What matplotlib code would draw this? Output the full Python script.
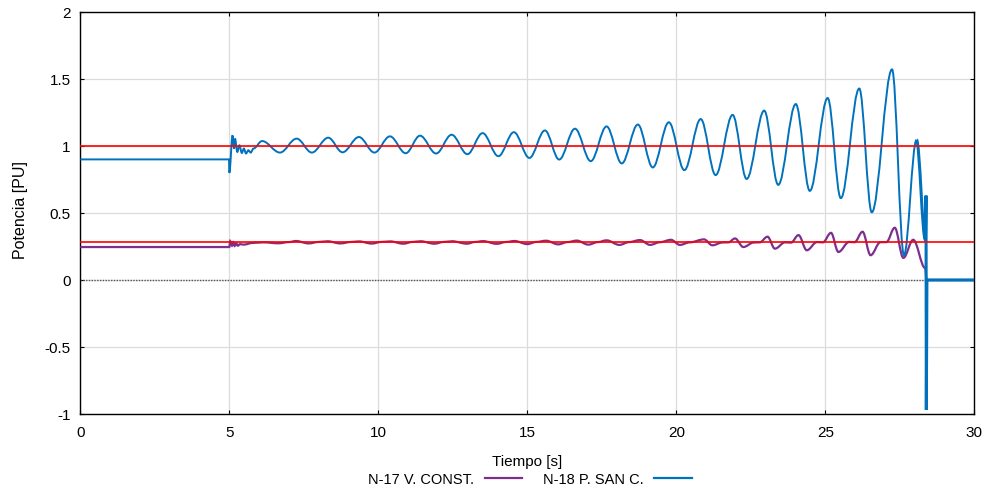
import matplotlib
matplotlib.use("Agg")
import matplotlib.pyplot as plt
from matplotlib.path import Path
from matplotlib.patches import PathPatch
from matplotlib.lines import Line2D

plt.rcParams['font.family'] = ['Liberation Sans', 'DejaVu Sans']

# N-18 P. SAN C. : plateau, chatter after 5 s, then peaks/troughs of the swing, collapse at 28.4 s
t_san = [0.0, 4.99, 5.00, 5.11, 5.16, 5.19, 5.27, 5.34, 5.42, 5.49, 5.56, 5.64, 5.72, 5.81,
         6.10, 6.70, 7.26, 7.77, 8.32, 8.80, 9.35, 9.87, 10.39, 10.92, 11.40, 11.94, 12.46, 12.99,
         13.50, 14.03, 14.55, 15.07, 15.59, 16.07, 16.60, 17.13, 17.66, 18.17, 18.71, 19.21, 19.75,
         20.27, 20.82, 21.32, 21.89, 22.36, 22.95, 23.42, 24.01, 24.48, 25.08, 25.52, 26.14, 26.56,
         27.24, 27.64, 28.06, 28.36, 28.38, 28.39, 28.41, 30.0]
p_san = [0.90, 0.90, 0.80, 1.079, 0.981, 1.055, 0.956, 1.005, 0.948, 0.981, 0.944, 0.968, 0.951, 0.981,
         1.037, 0.951, 1.055, 0.951, 1.062, 0.953, 1.067, 0.951, 1.072, 0.946, 1.077, 0.944, 1.084, 0.939,
         1.096, 0.924, 1.103, 0.911, 1.116, 0.899, 1.129, 0.887, 1.146, 0.870, 1.160, 0.840, 1.177,
         0.820, 1.201, 0.783, 1.232, 0.754, 1.264, 0.710, 1.313, 0.665, 1.358, 0.611, 1.429, 0.505,
         1.572, 0.185, 1.045, 0.30, 0.63, -0.97, 0.0, 0.0]

# N-17 V. CONST.
t_const = [0.0, 4.99, 5.00, 5.03, 5.09, 5.13, 5.18, 5.23, 5.29, 5.36, 5.47, 5.80, 6.14, 6.65, 7.00,
           7.24, 7.66, 8.00, 8.30, 8.72, 9.10, 9.35, 9.78, 10.10, 10.40, 10.84, 11.15, 11.42, 11.88,
           12.20, 12.48, 12.97, 13.25, 13.52, 13.97, 14.30, 14.57, 15.00, 15.30, 15.63, 16.04, 16.35,
           16.66, 17.05, 17.37, 17.66, 18.09, 18.42, 18.78, 19.12, 19.45, 19.82, 20.12, 20.45, 20.93,
           21.21, 21.55, 21.75, 21.97, 22.25, 22.60, 22.80, 23.06, 23.31, 23.65, 23.85, 24.10, 24.38,
           24.72, 24.92, 25.19, 25.44, 25.80, 25.98, 26.25, 26.52, 26.85, 27.05, 27.33, 27.62, 27.95,
           28.35, 28.40, 30.0]
p_const = [0.246, 0.246, 0.246, 0.290, 0.256, 0.282, 0.254, 0.274, 0.256, 0.268, 0.264, 0.277, 0.281, 0.274, 0.283,
           0.291, 0.273, 0.284, 0.289, 0.273, 0.284, 0.288, 0.272, 0.284, 0.288, 0.271, 0.284, 0.289, 0.271,
           0.284, 0.289, 0.271, 0.284, 0.290, 0.270, 0.284, 0.291, 0.268, 0.284, 0.293, 0.266, 0.283,
           0.294, 0.264, 0.283, 0.296, 0.262, 0.283, 0.298, 0.262, 0.282, 0.300, 0.262, 0.281, 0.303,
           0.259, 0.280, 0.281, 0.310, 0.246, 0.280, 0.281, 0.323, 0.234, 0.281, 0.279, 0.335, 0.222,
           0.283, 0.281, 0.352, 0.209, 0.284, 0.282, 0.360, 0.185, 0.282, 0.283, 0.390, 0.165, 0.300,
           0.09, 0.0, 0.0]

limites = [1.0, 0.286]
x_ticks = [0, 5, 10, 15, 20, 25, 30]
y_ticks = [-1, -0.5, 0, 0.5, 1, 1.5, 2]

azul = "#0072BD"
morado = "#7E2F8E"


def smooth_path(t, v, k=0.36):
    # cubic segments with flat tangents at every read point (peaks, troughs, plateaus)
    verts = [(t[0], v[0])]
    codes = [Path.MOVETO]
    for i in range(1, len(t)):
        d = (t[i] - t[i - 1]) * k
        verts += [(t[i - 1] + d, v[i - 1]), (t[i] - d, v[i]), (t[i], v[i])]
        codes += [Path.CURVE4] * 3
    return Path(verts, codes)


fig = plt.figure(figsize=(9.85, 4.89), dpi=100)
ax = fig.add_axes([80.3 / 985, 1 - 415 / 489, 894 / 985, 402 / 489])

ax.set_xlim(0, 30)
ax.set_ylim(-1, 2)
ax.set_xticks(x_ticks)
ax.set_yticks(y_ticks)
ax.set_xticklabels([str(x) for x in x_ticks])
ax.set_yticklabels(["-1", "-0.5", "0", "0.5", "1", "1.5", "2"])
ax.grid(True, color="#dcdcdc", lw=0.9)
ax.set_axisbelow(True)
ax.tick_params(direction="in", length=3, width=0.8, labelsize=11, pad=8,
               top=True, right=True, colors="black")
ax.tick_params(axis="y", pad=7)
for s in ax.spines.values():
    s.set_linewidth(1.0)
    s.set_color("black")

ax.axhline(0, color="#555555", lw=1.0, ls=(0, (1, 1)), zorder=2)

ax.add_patch(PathPatch(smooth_path(t_const, p_const), fill=False, ec=morado, lw=1.6, zorder=3))
n = len(t_san) - 6
ax.add_patch(PathPatch(smooth_path(t_san[:n + 1], p_san[:n + 1]), fill=False, ec=azul, lw=1.4, zorder=4))
ax.add_patch(PathPatch(smooth_path(t_san[n:], p_san[n:]), fill=False, ec=azul, lw=2.2, zorder=4))

for y in limites:
    ax.axhline(y, color="#ff0000", lw=1.2, zorder=5)

ax.set_xlabel("Tiempo [s]", fontsize=11)
ax.set_ylabel("Potencia [PU]", fontsize=11.5)
ax.xaxis.set_label_coords(0.5, -0.10)
ax.yaxis.set_label_coords(-0.058, 0.51)

handles = [Line2D([], [], color=morado, lw=1.6), Line2D([], [], color=azul, lw=1.6)]
fig.legend(handles, ["N-17 V. CONST.", "N-18 P. SAN C."], loc="center",
           bbox_to_anchor=(530 / 985, 9 / 489), ncol=2, frameon=False, markerfirst=False,
           fontsize=10.5, handlelength=2.6, handletextpad=0.7, columnspacing=1.4,
           borderaxespad=0, borderpad=0)

fig.savefig("out.png", dpi=100)
